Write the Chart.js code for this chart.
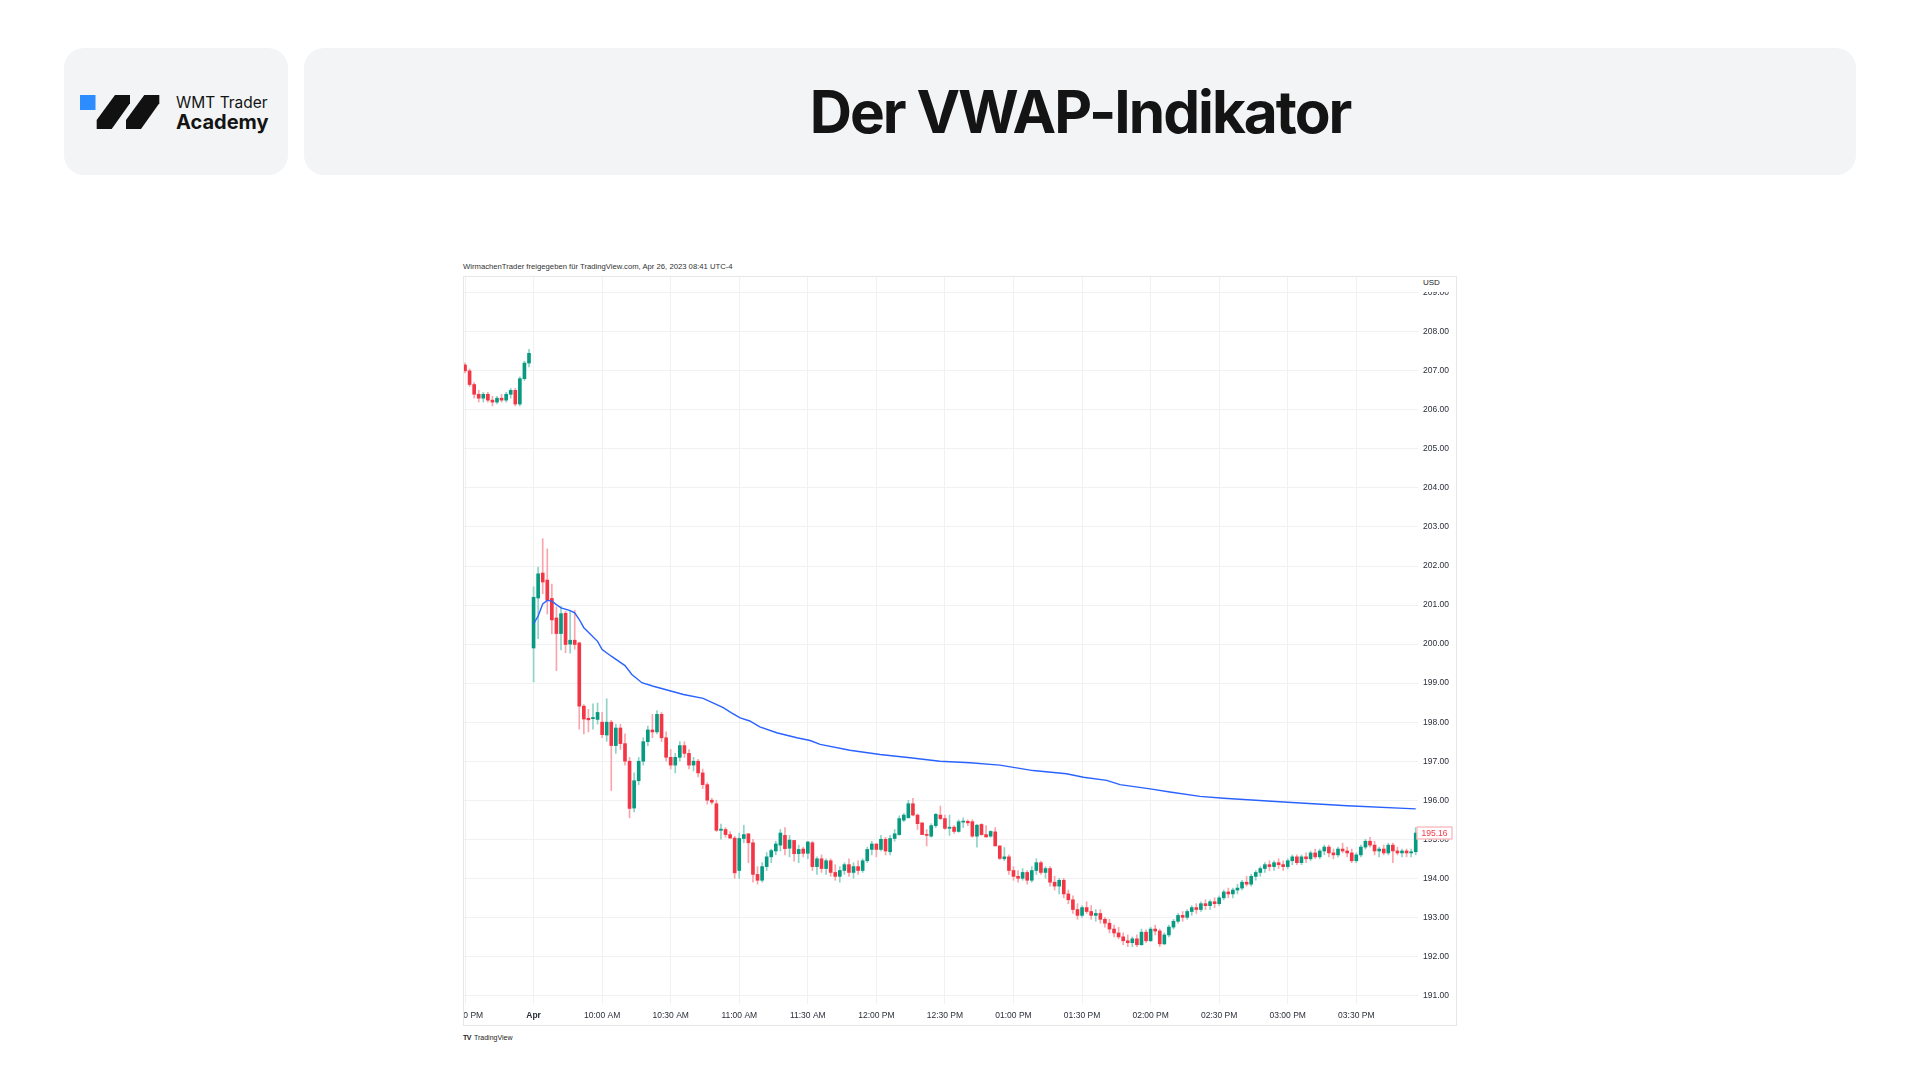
<!DOCTYPE html>
<html lang="de">
<head>
<meta charset="utf-8">
<title>Der VWAP-Indikator</title>
<script src="https://cdn.jsdelivr.net/npm/chart.js@4.4.0/dist/chart.umd.min.js"></script>
<style>
  html, body { margin: 0; padding: 0; background: #fff; }
  body { width: 1920px; height: 1080px; position: relative; overflow: hidden; font-family: Inter, "Noto Sans", sans-serif; }
  .card { position: absolute; top: 48px; height: 127px; background: #f3f4f6; border-radius: 20px; }
  #logoCard { left: 64px; width: 224px; }
  #titleCard { left: 304px; width: 1552px; display: flex; align-items: center; justify-content: center; }
  #titleCard h1 { margin: 0; font-size: 58.5px; font-weight: 700; letter-spacing: -2px; color: #141414; }
  #logoSvg { position: absolute; left: 0; top: 0; }
  #logoText { position: absolute; left: 112px; top: 46px; color: #141414; }
  #logoText .l1 { font-size: 15.5px; line-height: 18px; font-weight: 400; }
  #logoText .l2 { font-size: 20px; line-height: 21px; font-weight: 700; }
  #shareLine { position: absolute; left: 463px; top: 262px; font: 7.7px "Liberation Sans", Arial, sans-serif; color: #333; white-space: nowrap; }
  #chartClip { position: absolute; left: 463px; top: 276px; width: 994px; height: 750px; overflow: hidden; }
  #chartClip canvas { position: absolute; left: -60px; top: 0; }
  #chartFrame { position: absolute; left: 463px; top: 276px; width: 994px; height: 750px; box-sizing: border-box; border: 1px solid #e6e7ea; pointer-events: none; }
  #usd { position: absolute; left: 1420px; top: 277px; width: 35px; height: 15px; background: #fff; font: 8px "Liberation Sans", Arial, sans-serif; color: #222; line-height: 11px; padding-left: 3px; box-sizing: border-box; }
  #tvMark { position: absolute; left: 463px; top: 1034px; font: 7px "Liberation Sans", Arial, sans-serif; color: #222; white-space: nowrap; }
  #tvMark b { font-weight: 700; letter-spacing: -0.5px; margin-right: 3px; }
</style>
</head>
<body>
<div class="card" id="logoCard">
  <svg id="logoSvg" width="224" height="127" viewBox="0 0 224 127">
    <rect x="16" y="47" width="15.5" height="15" fill="#2d8cff"/>
    <polygon points="51,47 66,47 66,55.3 47.7,81 32.7,81 32.7,72" fill="#111"/>
    <polygon points="80.3,47 95.3,47 95.3,55.3 77,81 62,81 62,72" fill="#111"/>
  </svg>
  <div id="logoText"><div class="l1">WMT Trader</div><div class="l2">Academy</div></div>
</div>
<div class="card" id="titleCard"><h1>Der VWAP-Indikator</h1></div>

<div id="shareLine">WirmachenTrader freigegeben für TradingView.com, Apr 26, 2023 08:41 UTC-4</div>
<div id="chartClip"><canvas id="chart" width="1054" height="750"></canvas></div>
<div id="chartFrame"></div>
<div id="usd">USD</div>
<div id="tvMark"><b>TV</b>TradingView</div>

<script>
// 2-minute bars: index 0-14 = previous day 15:30-15:58, index 15 = 09:30 today
const tickIndex = [0, 15, 30, 45, 60, 75, 90, 105, 120, 135, 150, 165, 180, 195];
const timeLabels = ['03:30 PM', 'Apr', '10:00 AM', '10:30 AM', '11:00 AM', '11:30 AM', '12:00 PM',
  '12:30 PM', '01:00 PM', '01:30 PM', '02:00 PM', '02:30 PM', '03:00 PM', '03:30 PM'];
const priceTicks = [191, 192, 193, 194, 195, 196, 197, 198, 199, 200, 201, 202, 203, 204, 205, 206, 207, 208, 209];

const opens = [
  207.15,207.00,206.65,206.40,206.30,206.40,206.25,206.20,206.30,206.25,206.40,206.50,206.15,206.80,207.20,
  199.90,201.18,201.82,201.64,201.17,200.67,200.27,200.79,200.00,200.10,200.03,198.41,198.10,198.09,198.07,
  198.00,197.67,198.00,197.40,197.85,197.45,197.00,195.80,196.50,197.00,197.50,197.80,197.75,198.20,197.60,
  197.10,196.90,197.10,197.40,197.20,196.90,197.00,196.70,196.40,196.00,195.91,195.23,195.25,195.12,195.03,
  194.20,195.02,195.14,194.91,194.10,193.95,194.30,194.55,194.70,194.85,195.10,194.77,194.97,194.63,194.75,
  194.64,194.91,194.30,194.50,194.25,194.45,194.15,194.05,194.20,194.35,194.15,194.30,194.20,194.45,194.74,
  194.88,194.74,195.00,194.68,195.02,195.12,195.49,195.55,195.91,195.62,195.42,195.12,195.08,195.35,195.62,
  195.53,195.28,195.31,195.20,195.44,195.46,195.45,195.08,195.38,195.12,195.08,195.19,194.83,194.50,194.55,
  194.20,194.05,194.00,194.15,193.95,194.20,194.40,194.15,194.25,193.90,193.80,193.95,193.60,193.45,193.20,
  193.05,193.25,193.15,193.05,193.10,192.95,192.85,192.70,192.60,192.50,192.40,192.35,192.45,192.30,192.62,
  192.40,192.70,192.65,192.32,192.55,192.75,192.90,193.05,193.00,193.15,193.25,193.20,193.35,193.30,193.40,
  193.35,193.50,193.65,193.60,193.70,193.75,193.90,193.85,194.05,194.15,194.25,194.35,194.30,194.40,194.35,
  194.30,194.45,194.55,194.40,194.55,194.50,194.65,194.55,194.70,194.80,194.65,194.60,194.75,194.70,194.65,
  194.45,194.60,194.80,194.95,194.85,194.70,194.75,194.65,194.85,194.70,194.65,194.70,194.65,194.68
];
const highs = [
  207.20,207.05,206.70,206.50,206.45,206.45,206.35,206.35,206.40,206.45,206.55,206.55,206.85,207.25,207.55,
  201.47,201.97,202.70,202.44,201.54,200.95,200.97,200.84,200.84,200.87,200.05,198.45,198.33,198.47,198.49,
  198.25,198.60,198.05,197.95,197.95,197.70,197.10,196.70,197.10,197.60,197.90,198.20,198.30,198.25,197.75,
  197.30,197.20,197.50,197.50,197.30,197.10,197.05,196.80,196.45,196.05,196.00,195.39,195.30,195.20,195.08,
  195.16,195.36,195.14,195.00,194.30,194.40,194.66,194.75,194.95,195.25,195.30,195.10,194.97,194.85,194.80,
  194.95,194.95,194.55,194.60,194.50,194.50,194.35,194.30,194.40,194.50,194.40,194.45,194.50,194.80,194.95,
  194.88,195.10,195.05,195.10,195.25,195.60,195.66,196.00,196.05,195.65,195.42,195.25,195.40,195.66,195.85,
  195.62,195.62,195.35,195.50,195.55,195.50,195.50,195.38,195.40,195.35,195.22,195.30,194.83,194.79,194.60,
  194.30,194.20,194.25,194.20,194.30,194.50,194.44,194.30,194.30,194.05,194.00,194.00,193.70,193.55,193.35,
  193.30,193.40,193.30,193.20,193.20,193.00,192.95,192.80,192.75,192.60,192.55,192.50,192.55,192.70,192.68,
  192.75,192.80,192.70,192.60,192.80,192.95,193.10,193.15,193.20,193.30,193.35,193.40,193.45,193.45,193.50,
  193.55,193.70,193.75,193.75,193.85,193.95,194.05,194.10,194.20,194.30,194.40,194.45,194.45,194.50,194.45,
  194.50,194.60,194.60,194.60,194.65,194.70,194.75,194.75,194.85,194.85,194.75,194.80,194.90,194.80,194.75,
  194.65,194.85,195.00,195.05,194.95,194.80,194.85,194.90,194.90,194.80,194.75,194.75,194.75,195.30
];
const lows = [
  206.95,206.60,206.30,206.20,206.20,206.20,206.10,206.15,206.20,206.20,206.30,206.10,206.10,206.75,207.10,
  199.03,200.14,201.29,200.77,200.26,199.32,199.85,199.78,199.77,199.87,197.82,197.70,197.75,197.82,197.95,
  197.60,197.51,196.25,197.20,197.30,196.90,195.55,195.70,196.40,196.90,197.40,197.60,197.70,197.50,197.00,
  196.80,196.70,197.00,197.10,196.80,196.75,196.60,196.30,195.90,195.90,195.20,195.00,195.05,195.02,194.00,
  194.00,194.91,194.40,193.90,193.85,193.90,194.20,194.40,194.60,194.70,194.60,194.55,194.44,194.40,194.55,
  194.50,194.20,194.10,194.15,194.10,194.05,193.95,193.90,194.10,194.05,194.00,194.10,194.15,194.40,194.60,
  194.55,194.70,194.60,194.60,194.95,195.10,195.45,195.55,195.60,195.25,195.12,194.83,195.05,195.30,195.50,
  195.25,195.10,195.15,195.18,195.30,195.35,195.05,194.80,195.10,195.05,195.05,194.83,194.48,194.45,194.10,
  193.95,193.90,193.95,193.85,193.90,194.10,194.10,194.00,193.80,193.70,193.60,193.50,193.35,193.10,192.95,
  193.00,193.10,192.95,192.90,192.85,192.75,192.60,192.50,192.45,192.30,192.25,192.25,192.25,192.28,192.35,
  192.38,192.55,192.25,192.30,192.50,192.70,192.85,192.90,192.95,193.05,193.10,193.15,193.20,193.20,193.25,
  193.30,193.45,193.50,193.50,193.60,193.70,193.80,193.80,193.95,194.05,194.15,194.20,194.20,194.25,194.20,
  194.25,194.35,194.35,194.35,194.40,194.45,194.50,194.50,194.60,194.55,194.50,194.55,194.65,194.55,194.40,
  194.40,194.55,194.75,194.80,194.60,194.55,194.60,194.60,194.40,194.60,194.55,194.55,194.55,194.60
];
const closes = [
  207.00,206.65,206.40,206.30,206.40,206.25,206.20,206.30,206.25,206.40,206.50,206.15,206.80,207.20,207.45,
  201.20,201.80,201.59,201.12,200.62,200.27,200.78,199.99,200.10,199.99,198.41,198.08,198.06,198.12,198.25,
  197.68,198.00,197.40,197.85,197.45,197.00,195.79,196.50,197.00,197.50,197.80,197.75,198.20,197.60,197.10,
  196.90,197.10,197.40,197.20,196.90,197.00,196.70,196.40,196.00,195.95,195.23,195.26,195.12,195.03,194.14,
  195.02,195.12,194.91,194.10,193.95,194.30,194.55,194.71,194.88,195.16,194.76,194.98,194.63,194.74,194.64,
  194.93,194.30,194.50,194.25,194.45,194.15,194.05,194.20,194.35,194.15,194.30,194.20,194.45,194.74,194.88,
  194.74,195.00,194.70,195.02,195.14,195.53,195.62,195.91,195.62,195.40,195.12,195.10,195.35,195.64,195.53,
  195.28,195.31,195.20,195.45,195.46,195.42,195.08,195.36,195.12,195.06,195.20,194.83,194.51,194.55,194.20,
  194.05,194.00,194.15,193.95,194.20,194.40,194.15,194.25,193.90,193.80,193.95,193.60,193.45,193.20,193.05,
  193.25,193.15,193.05,193.10,192.95,192.85,192.70,192.60,192.50,192.40,192.35,192.45,192.30,192.62,192.40,
  192.70,192.65,192.32,192.55,192.75,192.90,193.05,193.00,193.15,193.25,193.20,193.35,193.30,193.40,193.35,
  193.50,193.65,193.60,193.70,193.75,193.90,193.85,194.05,194.15,194.25,194.35,194.30,194.40,194.35,194.30,
  194.45,194.55,194.40,194.55,194.50,194.65,194.55,194.70,194.80,194.65,194.60,194.75,194.70,194.65,194.45,
  194.60,194.80,194.95,194.85,194.70,194.75,194.65,194.85,194.70,194.65,194.70,194.65,194.68,195.16
];

// VWAP at these bar positions
const vwapIdx = [15, 16, 17, 18, 19, 20, 21, 23, 24, 25, 26, 29, 30, 32, 35, 36.5, 38.7, 41.2, 43.4, 47.8,
  52.1, 56.5, 58.3, 60.2, 62.3, 64.5, 68.2, 72.6, 75.5, 77.7, 84.2, 90.8, 97.4, 103.9, 110.5, 117,
  124.3, 131.6, 135.3, 140.4, 143.3, 149.9, 154.2, 160.8, 166, 180, 193, 208];
const vwapVals = [200.52, 200.72, 201.03, 201.12, 201.10, 201.01, 200.93, 200.86, 200.80, 200.63, 200.42,
  200.07, 199.86, 199.69, 199.45, 199.22, 199.01, 198.92, 198.85, 198.71, 198.61, 198.37, 198.24, 198.11,
  198.03, 197.88, 197.73, 197.60, 197.53, 197.43, 197.28, 197.17, 197.09, 197.00, 196.96, 196.90, 196.76,
  196.68, 196.59, 196.51, 196.40, 196.29, 196.21, 196.10, 196.05, 195.95, 195.86, 195.78];

const upColor = '#089981', downColor = '#f23645';
const upWick = '#8fd3c7', downWick = '#f8a5ac';
const isUp = i => closes[i] >= opens[i];

const lastPriceLabel = {
  id: 'lastPriceLabel',
  afterDatasetsDraw(chart) {
    const { ctx, chartArea, scales } = chart;
    const last = closes[closes.length - 1];
    const y = Math.round(scales.y.getPixelForValue(last));
    const x = chartArea.right - 1.5, w = 36, h = 13;
    ctx.save();
    ctx.fillStyle = '#fff';
    ctx.fillRect(x, y - h / 2, w, h);
    ctx.strokeStyle = '#f7a1a8';
    ctx.lineWidth = 1;
    ctx.strokeRect(x + 0.5, y - h / 2 + 0.5, w - 1, h - 1);
    ctx.fillStyle = downColor;
    ctx.font = '8.5px "Liberation Sans", Arial, sans-serif';
    ctx.textAlign = 'center';
    ctx.textBaseline = 'middle';
    ctx.fillText(last.toFixed(2), x + w / 2, y + 0.5);
    ctx.restore();
  }
};

new Chart(document.getElementById('chart'), {
  type: 'bar',
  data: {
    datasets: [
      {
        type: 'line',
        data: vwapIdx.map((x, i) => ({ x: x, y: vwapVals[i] })),
        borderColor: '#2962ff',
        borderWidth: 1.4,
        pointRadius: 0,
        tension: 0,
        order: 0
      },
      {
        data: opens.map((o, i) => ({ x: i, y: [o, closes[i]] })),
        backgroundColor: ctx => isUp(ctx.dataIndex) ? upColor : downColor,
        barThickness: 3,
        minBarLength: 1,
        grouped: false,
        order: 1
      },
      {
        data: lows.map((l, i) => ({ x: i, y: [l, highs[i]] })),
        backgroundColor: ctx => isUp(ctx.dataIndex) ? upWick : downWick,
        barThickness: 1,
        grouped: false,
        order: 2
      }
    ]
  },
  options: {
    responsive: false,
    animation: false,
    devicePixelRatio: 1,
    layout: { padding: { left: 60, top: 0, right: 0, bottom: 0 } },
    plugins: { legend: { display: false }, tooltip: { enabled: false } },
    scales: {
      x: {
        type: 'linear',
        min: -0.44,
        max: 208.5,
        offset: false,
        afterBuildTicks: s => { s.ticks = tickIndex.map(v => ({ value: v })); },
        afterFit: s => { s.height = 22; s.paddingLeft = 0; s.paddingRight = 0; },
        grid: { color: '#f0f1f3', offset: false, drawTicks: false },
        border: { display: false },
        ticks: {
          autoSkip: false,
          maxRotation: 0,
          padding: 7,
          color: '#2a2e39',
          font: ctx => ({ family: '"Liberation Sans", Arial, sans-serif', size: 8.5,
            weight: ctx.tick && ctx.tick.value === 15 ? 'bold' : 'normal' }),
          callback: (v, i) => timeLabels[i]
        }
      },
      y: {
        position: 'right',
        min: 190.78,
        max: 209.43,
        afterBuildTicks: s => { s.ticks = priceTicks.map(v => ({ value: v })); },
        afterFit: s => { s.width = 39; s.paddingTop = 0; s.paddingBottom = 0; },
        grid: { color: '#f0f1f3', drawTicks: false },
        border: { display: false },
        ticks: {
          padding: 5,
          color: '#2a2e39',
          font: { family: '"Liberation Sans", Arial, sans-serif', size: 8.5 },
          callback: v => v.toFixed(2)
        }
      }
    }
  },
  plugins: [lastPriceLabel]
});
</script>
</body>
</html>
